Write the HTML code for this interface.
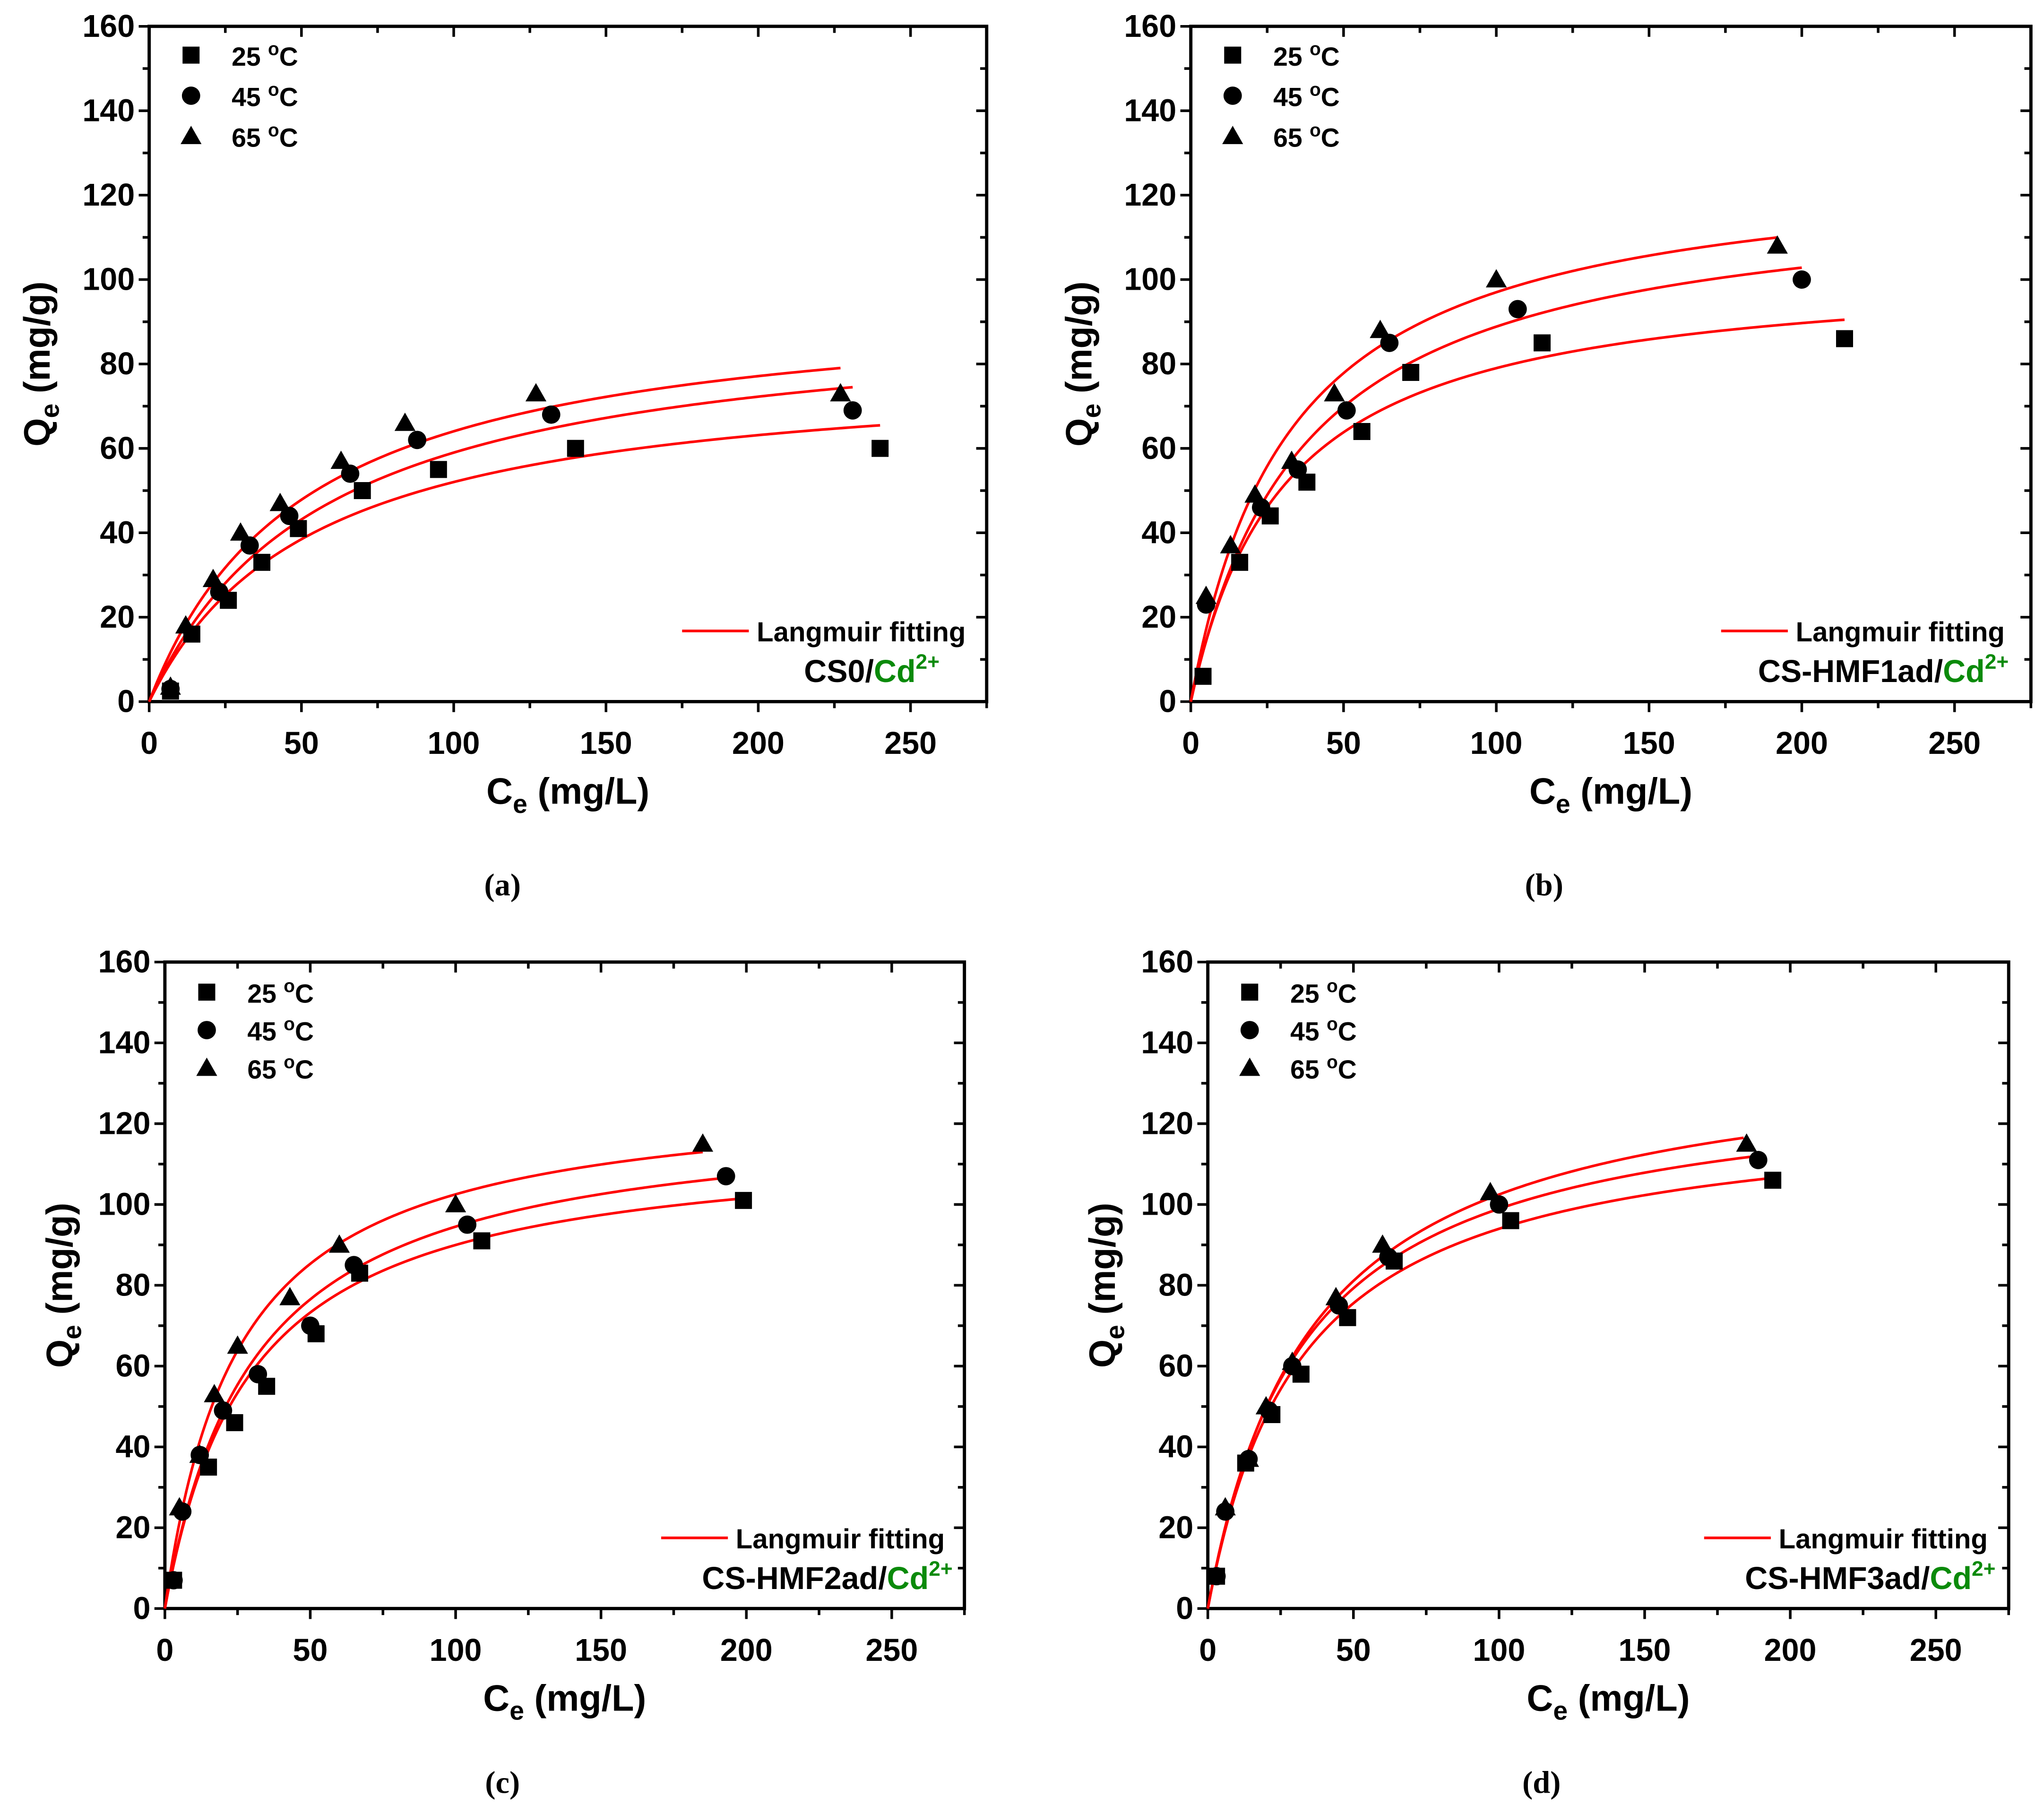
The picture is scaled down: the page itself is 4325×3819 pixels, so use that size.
<!DOCTYPE html>
<html><head><meta charset="utf-8"><style>
html,body{margin:0;padding:0;background:#fff}
svg{display:block}
text{font-family:"Liberation Sans",Arial,sans-serif;font-weight:bold}
</style></head><body>
<svg id="fig" width="4325" height="3819" viewBox="0 0 1562 1379" xmlns="http://www.w3.org/2000/svg"></svg>
<script>
// ---- data ----
const panelIds = ['a','b','c','d'];
const panelSamples = ['CS0','CS-HMF1ad','CS-HMF2ad','CS-HMF3ad'];
const seriesNames = ['25 °C','45 °C','65 °C'];
const xTicks = [0,50,100,150,200,250];
const yTicks = [0,20,40,60,80,100,120,140,160];
// points [Ce, Qe]
const a25 = [[7,2.5],[14,16],[26,24],[37,33],[49,41],[70,50],[95,55],[140,60],[240,60]];
const a45 = [[7,3],[23,26],[33,37],[46,44],[66,54],[88,62],[132,68],[231,69]];
const a65 = [[7,3.5],[12,18],[21,29],[30,40],[43,47],[63,57],[84,66],[127,73],[227,73]];
const b25 = [[4,6],[16,33],[26,44],[38,52],[56,64],[72,78],[115,85],[214,86]];
const b45 = [[5,23],[23,46],[35,55],[51,69],[65,85],[107,93],[200,100]];
const b65 = [[5,25],[13,37],[21,49],[33,57],[47,73],[62,88],[100,100],[192,108]];
const c25 = [[3,7],[15,35],[24,46],[35,55],[52,68],[67,83],[109,91],[199,101]];
const c45 = [[3,7],[6,24],[12,38],[20,49],[32,58],[50,70],[65,85],[104,95],[193,107]];
const c65 = [[5,25],[12,38],[17,53],[25,65],[43,77],[60,90],[100,100],[185,115]];
const d25 = [[3,8],[13,36],[22,48],[32,58],[48,72],[64,86],[104,96],[194,106]];
const d45 = [[3,8],[6,24],[14,37],[21,49],[29,60],[45,75],[62,87],[100,100],[189,111]];
const d65 = [[6,25],[14,37],[20,50],[29,61],[44,77],[60,90],[97,103],[185,115]];
// Langmuir params [qm, KL, Cmax]
const aFit = [[80.3,0.0184,240],[93.2,0.01725,231],[96.9,0.0195,227]];
const bFit = [[103.7,0.032,214],[122,0.0268,200],[128.7,0.0306,192]];
const cFit = [[116.6,0.0338,199],[123.6,0.0325,192],[128.4,0.0396,185]];
const dFit = [[124.3,0.031,193],[131.6,0.0303,188],[139.2,0.0279,184]];

const pointsAll = [[a25,a45,a65],[b25,b45,b65],[c25,c45,c65],[d25,d45,d65]];
const fitsAll = [aFit,bFit,cFit,dFit];
// layout
const geom = [
 {x0:114,xr:754,yt:20,yb:536,xmax:275,sx:718,lx:738,ylab:28,lg:[42,73,104],px:384,py:684},
 {x0:910,xr:1552,yt:20,yb:536,xmax:275,sx:1535,lx:1532,ylab:824,lg:[42,73,104],px:1180,py:684},
 {x0:126,xr:737,yt:735,yb:1229,xmax:275,sx:728,lx:722,ylab:45,lg:[758,787,816],px:384,py:1370},
 {x0:923,xr:1535,yt:735,yb:1229,xmax:275,sx:1525,lx:1519,ylab:842,lg:[758,787,816],px:1178,py:1370}
];
const NS='http://www.w3.org/2000/svg';
const svg=document.getElementById('fig');
function mk(tag,attrs,parent){const e=document.createElementNS(NS,tag);for(const k in attrs)e.setAttribute(k,attrs[k]);(parent||svg).appendChild(e);return e;}
function marker(g,kind,x,y){
  let m;
  if(kind===0){m=mk('rect',{x:x-6.5,y:y-6.5,width:13,height:13,fill:'#000'},g);}
  else if(kind===1){m=mk('circle',{cx:x,cy:y,r:7,fill:'#000'},g);}
  else {m=mk('polygon',{points:`${x},${y-8} ${x+8},${y+6} ${x-8},${y+6}`,fill:'#000'},g);}
  return m;
}
panelIds.forEach((id,pi)=>{
  const G=geom[pi];
  const g=mk('g',{});
  
  
  const X=v=>G.x0+(G.xr-G.x0)*v/G.xmax;
  const Y=v=>G.yb-(G.yb-G.yt)*v/160;
  const fr=mk('rect',{x:G.x0,y:G.yt,width:G.xr-G.x0,height:G.yb-G.yt,fill:'none',stroke:'#000','stroke-width':2.5},g);
  
  
  for(let v=0;v<=160;v+=10){
    const major=v%20===0, L=major?8:5, y=Y(v);
    mk('line',{x1:G.x0-L,y1:y,x2:G.x0,y2:y,stroke:'#000','stroke-width':2},g);
    mk('line',{x1:G.xr,y1:y,x2:G.xr-L,y2:y,stroke:'#000','stroke-width':2},g);
  }
  for(let v=0;v<=275;v+=25){
    const major=v%50===0, L=major?8:5, x=X(v);
    mk('line',{x1:x,y1:G.yb,x2:x,y2:G.yb+L,stroke:'#000','stroke-width':2},g);
    mk('line',{x1:x,y1:G.yt,x2:x,y2:G.yt+L,stroke:'#000','stroke-width':2},g);
  }
  yTicks.forEach(v=>{const t=mk('text',{x:G.x0-11,y:Y(v)+8,'text-anchor':'end','font-size':24},g);t.textContent=v;
    });
  xTicks.forEach(v=>{const t=mk('text',{x:X(v),y:G.yb+40,'text-anchor':'middle','font-size':24},g);t.textContent=v;
    });
  const xt=mk('text',{x:(G.x0+G.xr)/2,y:G.yb+78,'text-anchor':'middle','font-size':28},g);
  xt.innerHTML='C<tspan font-size="20" dy="7">e</tspan><tspan dy="-7"> (mg/L)</tspan>';
  
  const cy=(G.yt+G.yb)/2;
  const yt=mk('text',{x:G.ylab,y:cy,'text-anchor':'middle','font-size':28,transform:`rotate(-90 ${G.ylab} ${cy}) translate(0 10)`},g);
  yt.innerHTML='Q<tspan font-size="20" dy="7">e</tspan><tspan dy="-7"> (mg/g)</tspan>';
  
  const pl=mk('text',{x:G.px,y:G.py,'text-anchor':'middle','font-size':24,style:'font-family:"Liberation Serif",serif'},g);
  pl.textContent='('+id+')';
  
  fitsAll[pi].forEach((f,si)=>{
    const [qm,K,cmax]=f; let d='';
    for(let i=0;i<=200;i++){const c=cmax*i/200;const q=qm*K*c/(1+K*c);d+=(i?'L':'M')+X(c).toFixed(2)+','+Y(q).toFixed(2);}
    const p=mk('path',{d:d,fill:'none',stroke:'#f00','stroke-width':2},g);
    
    
  });
  pointsAll[pi].forEach((pts,si)=>{
    pts.forEach(pt=>{const m=marker(g,si,X(pt[0]),Y(pt[1]));
      
      });
  });
  seriesNames.forEach((n,si)=>{
    const ly=G.lg[si];
    const m=marker(g,si,G.x0+32,ly);
    
    const t=mk('text',{x:G.x0+63,y:ly+8,'font-size':20},g);
    t.innerHTML=n.slice(0,2)+' <tspan font-size="14" dy="-8">o</tspan><tspan dy="8">C</tspan>';
    
  });
  const lt=mk('text',{x:G.lx,y:G.yb-46,'text-anchor':'end','font-size':21},g);
  lt.textContent='Langmuir fitting';
  
  let ts=G.lx-166; try{ts=lt.getBBox().x;}catch(e){}
  const ll=mk('line',{x1:ts-57,y1:G.yb-54,x2:ts-6,y2:G.yb-54,stroke:'#f00','stroke-width':2},g);
  
  const st=mk('text',{x:G.sx,y:G.yb-15,'text-anchor':'end','font-size':24},g);
  st.innerHTML=panelSamples[pi]+'/<tspan fill="#0a8a0a">Cd<tspan font-size="16" dy="-10">2+</tspan></tspan>';
  
});
</script>
</body></html>
